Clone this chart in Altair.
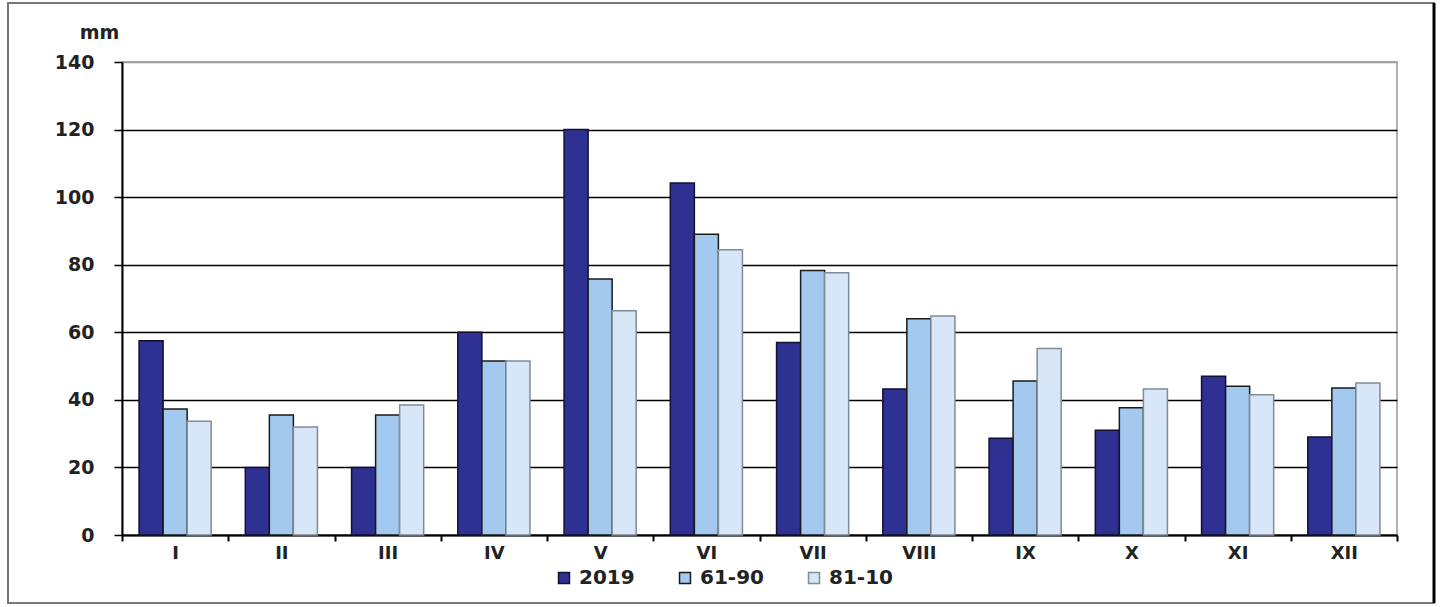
import altair as alt
import pandas as pd

months = ["I", "II", "III", "IV", "V", "VI", "VII", "VIII", "IX", "X", "XI", "XII"]
series_names = ["2019", "61-90", "81-10"]
v2019 = [57.5, 20, 20, 60, 120, 104.2, 57, 43.2, 28.6, 31, 47, 29]
v6190 = [37.3, 35.5, 35.5, 51.5, 75.8, 89, 78.3, 64, 45.6, 37.7, 44, 43.5]
v8110 = [33.7, 32, 38.5, 51.5, 66.4, 84.4, 77.6, 64.8, 55.2, 43.2, 41.5, 45]
y_ticks = [0, 20, 40, 60, 80, 100, 120, 140]

rows = []
for s, vals in zip(series_names, [v2019, v6190, v8110]):
    for m, v in zip(months, vals):
        rows.append({"month": m, "series": s, "value": v})
df = pd.DataFrame(rows)

FONT = "DejaVu Sans"
W, H = 1275, 473

leg = dict(title=None, orient="none", legendX=432, legendY=506,
           direction="horizontal", symbolType="square", symbolSize=120,
           symbolStrokeWidth=1.5, labelFont=FONT, labelFontWeight="bold",
           labelFontSize=20, labelColor="#222", columnPadding=40,
           labelOffset=5)

bars = alt.Chart(df).mark_bar(strokeWidth=1.5).encode(
    x=alt.X("month:N", sort=months, title=None,
            scale=alt.Scale(paddingInner=0, paddingOuter=0),
            axis=alt.Axis(labelAngle=0, tickBand="extent", domainColor="black",
                          domainWidth=2, tickColor="black", tickWidth=2, tickSize=6,
                          labelFont=FONT, labelFontWeight="bold", labelFontSize=18,
                          labelColor="#222", labelPadding=3)),
    xOffset=alt.XOffset("series:N", sort=series_names,
                        scale=alt.Scale(paddingInner=0, paddingOuter=0.71)),
    y=alt.Y("value:Q", scale=alt.Scale(domain=[0, 140], nice=False),
            axis=alt.Axis(values=y_ticks, title="mm", titleAngle=0, titleX=-23, titleY=-30,
                          titleFont=FONT, titleFontWeight="bold", titleFontSize=19,
                          titleColor="#222", titleAlign="center", titleBaseline="middle",
                          gridColor={"condition": {"test": "datum.value == 140", "value": "#999999"}, "value": "black"},
                          gridWidth=1.5, domainColor="black", domainWidth=2,
                          tickColor="black", tickWidth=1.5, tickSize=8,
                          labelFont=FONT, labelFontWeight="bold", labelFontSize=19,
                          labelColor="#222", labelPadding=20)),
    color=alt.Color("series:N", sort=series_names,
                    scale=alt.Scale(domain=series_names, range=["#2E3192", "#A3C9EE", "#D7E7F8"]),
                    legend=alt.Legend(**leg)),
    stroke=alt.Stroke("series:N", sort=series_names,
                      scale=alt.Scale(domain=series_names, range=["#111133", "#1a1a1a", "#7f8c99"]),
                      legend=alt.Legend(**leg)),
)

frame_df = pd.DataFrame({"k": [0]})
frame = alt.Chart(frame_df).mark_rect(fill=None, stroke="#777777", strokeWidth=2, clip=False).encode(
    x=alt.value(-114), x2=alt.value(1312), y=alt.value(-59), y2=alt.value(541)
)
right_edge = alt.Chart(frame_df).mark_rule(stroke="black", strokeWidth=3, clip=False).encode(
    x=alt.value(1312), y=alt.value(-59), y2=alt.value(541)
)

chart = alt.layer(bars, frame, right_edge).properties(
    width=W, height=H,
    padding={"left": 122, "top": 62, "right": 45, "bottom": 72},
    autosize=alt.AutoSizeParams(type="none"),
    background="white",
).configure_view(stroke="#999999", strokeWidth=1.5)

chart.save("out.html", embed_options={"renderer": "svg", "actions": False})
